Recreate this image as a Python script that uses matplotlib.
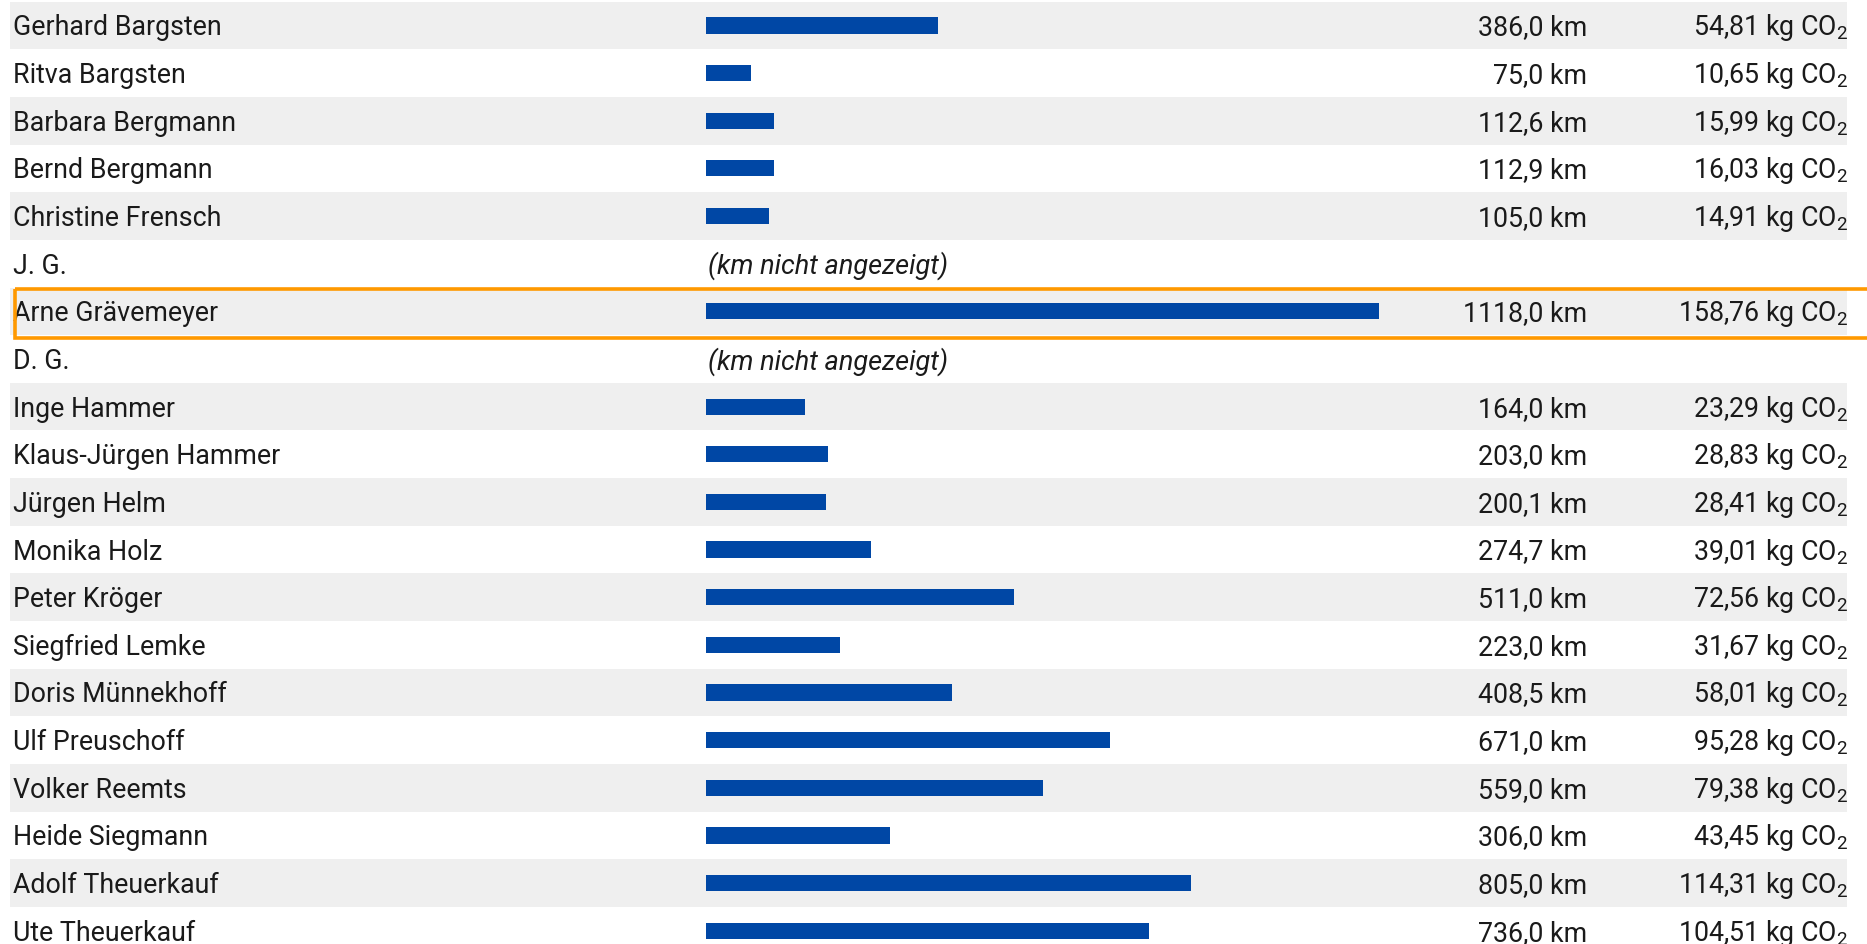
import matplotlib
matplotlib.use("Agg")
import matplotlib.pyplot as plt
from matplotlib.patches import Rectangle

plt.rcParams['font.family'] = ['Roboto', 'DejaVu Sans']
plt.rcParams['mathtext.fontset'] = 'custom'
plt.rcParams['mathtext.rm'] = 'Roboto'
plt.rcParams['mathtext.it'] = 'Roboto'
plt.rcParams['mathtext.bf'] = 'Roboto'

names = ["Gerhard Bargsten", "Ritva Bargsten", "Barbara Bergmann", "Bernd Bergmann",
         "Christine Frensch", "J. G.", "Arne Grävemeyer", "D. G.", "Inge Hammer",
         "Klaus-Jürgen Hammer", "Jürgen Helm", "Monika Holz", "Peter Kröger",
         "Siegfried Lemke", "Doris Münnekhoff", "Ulf Preuschoff", "Volker Reemts",
         "Heide Siegmann", "Adolf Theuerkauf", "Ute Theuerkauf"]
km = [386.0, 75.0, 112.6, 112.9, 105.0, None, 1118.0, None, 164.0, 203.0, 200.1,
      274.7, 511.0, 223.0, 408.5, 671.0, 559.0, 306.0, 805.0, 736.0]
co2 = [54.81, 10.65, 15.99, 16.03, 14.91, None, 158.76, None, 23.29, 28.83, 28.41,
       39.01, 72.56, 31.67, 58.01, 95.28, 79.38, 43.45, 114.31, 104.51]
highlight = "Arne Grävemeyer"
hidden_label = "(km nicht angezeigt)"

W, H = 1867, 945
fig = plt.figure(figsize=(W / 100, H / 100), dpi=100)

row_h = 47.65
top0 = 2.6
y_top = (0 - top0) / row_h - 0.5
y_bot = (H - top0) / row_h - 0.5

bg = fig.add_axes([0, 0, 1, 1])
bg.set_xlim(0, W)
bg.set_ylim(y_bot, y_top)
bg.axis('off')

txt_color = '#1a1a1a'
fs = 19.3
for i, (n, k, c) in enumerate(zip(names, km, co2)):
    if i % 2 == 0:
        bg.add_patch(Rectangle((10, i - 0.5), 1837, 1.0, facecolor='#efefef',
                               edgecolor='none', zorder=0))
    bg.text(13, i + 0.03, n, ha='left', va='center', fontsize=fs, color=txt_color)
    if k is None:
        bg.text(708, i + 0.03, hidden_label, ha='left', va='center', fontsize=fs + 0.2,
                style='italic', color=txt_color)
    else:
        bg.text(1587, i + 0.03, f"{k:.1f} km".replace('.', ','), ha='right',
                va='center', fontsize=fs, color=txt_color)
        bg.text(1848, i + 0.03, (f"{c:.2f}".replace('.', ',')) + r" kg CO$_2$",
                ha='right', va='center', fontsize=fs, color=txt_color)
    if n == highlight:
        bg.add_patch(Rectangle((15, i - 0.47), 1900, 1.03, facecolor='none',
                               edgecolor='#ff9900', linewidth=2.6, zorder=5,
                               clip_on=False))

# bar axes: x in km
bx0, bx1 = 706, 1587
px_per_km = 0.602
bax = fig.add_axes([bx0 / W, 0, (bx1 - bx0) / W, 1])
bax.set_xlim(0, (bx1 - bx0) / px_per_km)
bax.set_ylim(y_bot, y_top)
bax.patch.set_alpha(0)
bax.axis('off')
ys = [i for i, k in enumerate(km) if k is not None]
vals = [k for k in km if k is not None]
bax.barh(ys, vals, height=0.34, color='#0047a5', edgecolor='none')

fig.savefig('out.png', dpi=100)
